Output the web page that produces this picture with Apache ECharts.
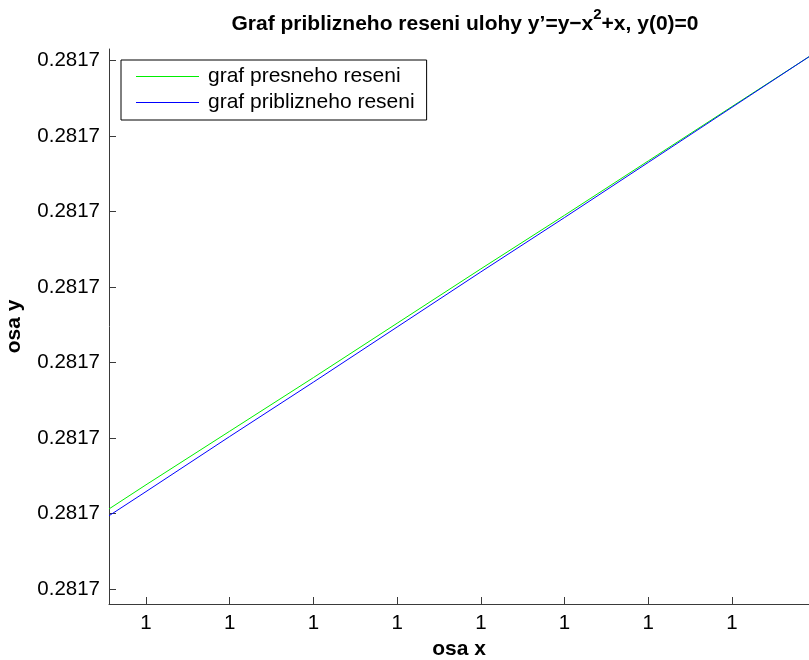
<!DOCTYPE html>
<html>
<head>
<meta charset="utf-8">
<script src="https://cdn.jsdelivr.net/npm/echarts@6/dist/echarts.min.js"></script>
<style>html,body{margin:0;padding:0;background:#fff;}#c{width:809px;height:660px;}</style>
</head>
<body>
<div id="c"></div>
<script>
// Data
const xValues = [0.999996558, 0.999997, 0.999998, 0.999999, 1.000000, 1.000001, 1.000002, 1.000003, 1.000004, 1.00000492];
const presneValues = [0.28170106, 0.28170138, 0.28170209, 0.28170280, 0.28170352, 0.28170424, 0.28170495, 0.28170567, 0.28170639, 0.28170705];
const priblizneValues = [0.28170097, 0.28170129, 0.28170202, 0.28170274, 0.28170347, 0.28170420, 0.28170492, 0.28170565, 0.28170638, 0.28170705];
const xTicks = [0.999997, 0.999998, 0.999999, 1.000000, 1.000001, 1.000002, 1.000003, 1.000004];
const yTicks = [0.2817000, 0.2817010, 0.2817020, 0.2817030, 0.2817040, 0.2817050, 0.2817060, 0.2817070];
const xRange = [0.999996558, 1.00000492];
const yRange = [0.2816998013, 0.2817071523];
const seriesNames = ['graf presneho reseni', 'graf priblizneho reseni'];

const fmt = v => String(Number(Number(v).toPrecision(4)));
const FONT = '"Liberation Sans", Arial, Helvetica, sans-serif';
const axisColor = '#3a3a3a';

const chart = echarts.init(document.getElementById('c'), null, {renderer: 'canvas'});
chart.setOption({
  animation: false,
  backgroundColor: '#fff',
  textStyle: {fontFamily: FONT},
  title: {
    text: '{a|Graf priblizneho reseni ulohy y\u2019=y\u2212x}{s|2}{a|+x, y(0)=0}',
    left: 460, top: 2, textAlign: 'center',
    textStyle: {
      rich: {
        a: {fontFamily: FONT, fontSize: 21, fontWeight: 'bold', color: '#000', lineHeight: 28, verticalAlign: 'bottom'},
        s: {fontFamily: FONT, fontSize: 15, fontWeight: 'bold', color: '#000', lineHeight: 28, verticalAlign: 'top', padding: [0, 0, 10, 0]}
      }
    }
  },
  legend: {
    orient: 'vertical', left: 121, top: 60,
    data: seriesNames.map(n => ({name: n, icon: 'rect'})),
    backgroundColor: '#fff', borderColor: '#000', borderWidth: 1,
    padding: [6, 12, 7, 15],
    itemWidth: 63, itemHeight: 1.2, itemGap: 5,
    textStyle: {fontFamily: FONT, fontSize: 21, color: '#000', padding: [0, 0, 0, 4], lineHeight: 21}
  },
  grid: {left: 109, right: 0, top: 49, bottom: 56, containLabel: false, outerBoundsMode: 'none'},
  xAxis: {
    type: 'value', min: xRange[0], max: xRange[1],
    name: 'osa x', nameLocation: 'middle', nameGap: 35,
    nameTextStyle: {fontFamily: FONT, fontSize: 21, fontWeight: 'bold', color: '#000'},
    axisLine: {show: true, onZero: false, lineStyle: {color: axisColor, width: 1}},
    axisTick: {show: true, inside: true, length: 7, customValues: xTicks, lineStyle: {color: axisColor}},
    axisLabel: {customValues: xTicks, formatter: fmt, margin: 9, fontFamily: FONT, fontSize: 20.5, color: '#000'},
    splitLine: {show: false}
  },
  yAxis: {
    type: 'value', min: yRange[0], max: yRange[1],
    name: 'osa y', nameLocation: 'middle', nameGap: 84, nameRotate: 90,
    nameTextStyle: {fontFamily: FONT, fontSize: 21, fontWeight: 'bold', color: '#000'},
    axisLine: {show: true, onZero: false, lineStyle: {color: axisColor, width: 1}},
    axisTick: {show: true, inside: true, length: 7, customValues: yTicks, lineStyle: {color: axisColor}},
    axisLabel: {customValues: yTicks, formatter: fmt, margin: 9, fontFamily: FONT, fontSize: 20.5, color: '#000'},
    splitLine: {show: false}
  },
  series: [
    {
      name: seriesNames[0], type: 'line', symbol: 'none', color: '#00ee00',
      lineStyle: {color: '#00ee00', width: 1},
      data: xValues.map((x, i) => [x, presneValues[i]])
    },
    {
      name: seriesNames[1], type: 'line', symbol: 'none', color: '#0000ff',
      lineStyle: {color: '#0000ff', width: 1},
      data: xValues.map((x, i) => [x, priblizneValues[i]])
    }
  ]
});
</script>
</body>
</html>
